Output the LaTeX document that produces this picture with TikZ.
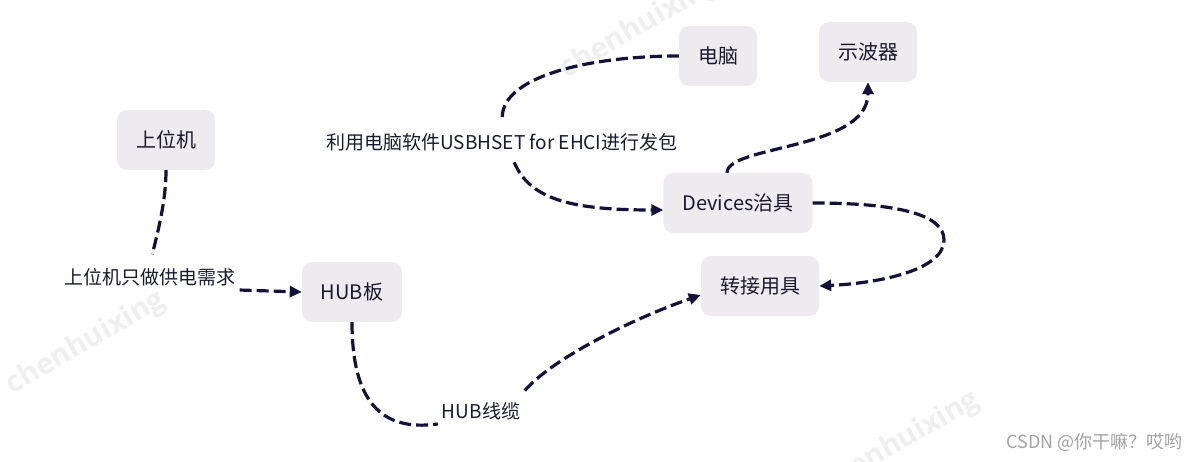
\documentclass[tikz,border=0pt]{standalone}
\usepackage{fontspec}
\newfontfamily\cjk{Noto Sans CJK SC}
\newfontfamily\wmfont{Open Sans}
\usepackage{tikz}
\usetikzlibrary{arrows.meta,positioning,calc}
\definecolor{boxgray}{HTML}{EDEBEF}
\definecolor{linenavy}{HTML}{12123A}
\definecolor{inkdark}{HTML}{1A1A2E}
\definecolor{wmark}{HTML}{EFEFEF}
\definecolor{csdngray}{HTML}{A2A2A2}

\begin{document}
\begin{tikzpicture}[x=1pt,y=1pt,
  every node/.style={font=\cjk\fontsize{20}{24}\selectfont, text=inkdark},
  block/.style={fill=boxgray, rounded corners=10pt, minimum height=60pt, inner xsep=19pt},
  note/.style={font=\cjk\fontsize{19}{23}\selectfont, inner sep=4pt},
  wm/.style={font=\wmfont\bfseries\fontsize{29}{31}\selectfont, text=wmark, rotate=30},
  link/.style={draw=linenavy, line width=3.2pt, dash pattern=on 12pt off 5pt},
  tip/.style={-{Triangle[length=12pt,width=11pt]}}]
\useasboundingbox (0,0) rectangle (1188,461);

% watermarks
\node[wm] (wma) at (86,118) {chenhuixing};
\node[wm] (wmb) at (640,434) {chenhuixing};
\node[wm] (wmc) at (900,18) {chenhuixing};
\node[font=\cjk\fontsize{18}{20}\selectfont, text=csdngray, anchor=east] (csdn) at (1186,19) {CSDN @你干嘛？哎哟};

\node[block] (upper) at (166,321) {上位机};
\node[block] (pc) at (718,405) {电脑};
\node[block] (scope) at (868,409) {示波器};
\node[block] (dev) at (738,258) {Devices治具};
\node[block] (conv) at (760,175) {转接用具};
\node[block] (hub) at (352,169) {HUB板};

\node[note] (powerreq) at (150,184) {上位机只做供电需求};
\node[note] (usbhset) at (502,319) {利用电脑软件USBHSET for EHCI进行发包};
\node[note] (cable) at (481,50) {HUB线缆};

\draw[link, shorten >=10pt] (upper.south) .. controls (166,260) and (158,230) .. (powerreq.north);
\draw[link, tip] (powerreq.south east) -- (hub.west);

\draw[link, shorten >=12pt] (pc.west) .. controls (590,405) and (503,385) .. (usbhset.north);
\draw[link, tip, shorten <=8pt] ([xshift=9pt]usbhset.south) .. controls (530,262) and (570,251) .. ($(dev.west)+(0,-7)$);

\draw[link, tip] ([xshift=-11pt]dev.north) .. controls (727,316) and (868,311) .. (scope.south);
\draw[link, tip] (dev.east) .. controls (900,258) and (944,246) .. (944,221)
  .. controls (944,191) and (880,178) .. (conv.east);

\draw[link] (hub.south) .. controls (352,61) and (380,29) .. (cable.south west);
\draw[link, tip, shorten <=10pt] ([xshift=-6pt]cable.north east) .. controls (555,105) and (640,145) .. ($(conv.west)+(0,-9)$);
\end{tikzpicture}
\end{document}
